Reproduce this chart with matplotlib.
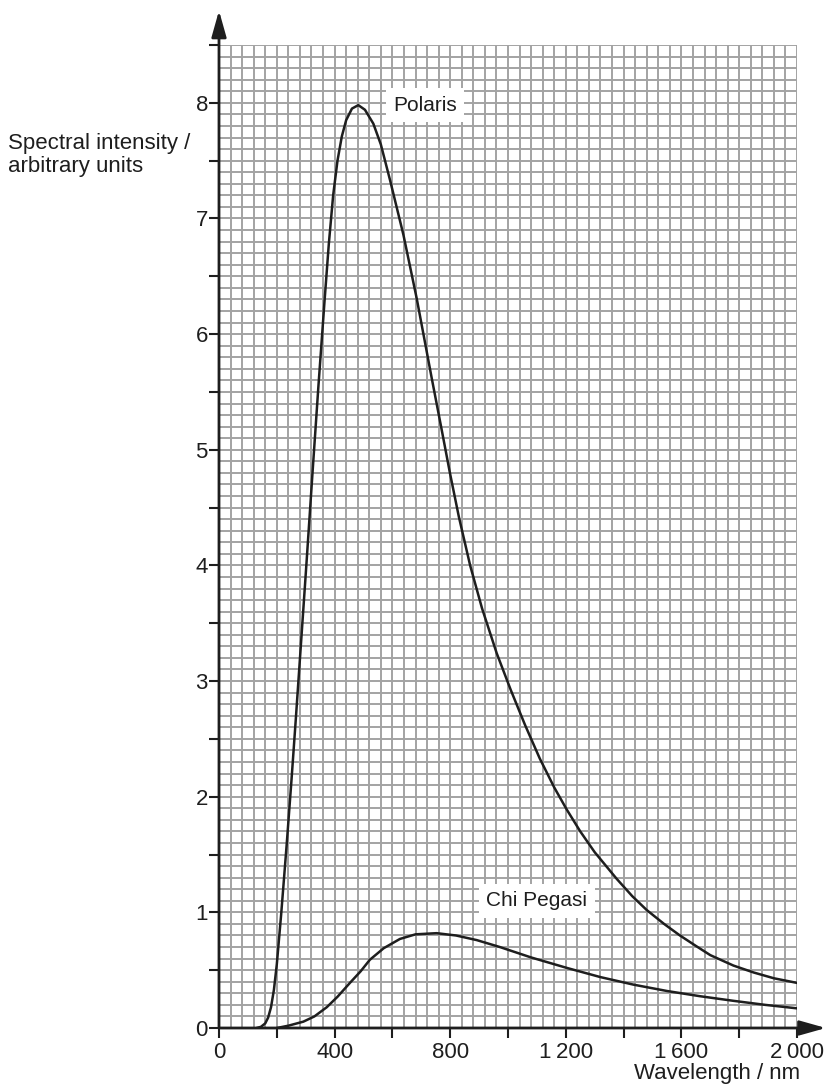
import numpy as np
import matplotlib.pyplot as plt
from matplotlib.ticker import MultipleLocator, FuncFormatter

plt.rcParams['font.family'] = ['Liberation Sans', 'DejaVu Sans']

# Polaris curve (wavelength / nm, intensity)
polaris_nm = [130, 145, 160, 170, 180, 190, 200, 215, 234, 251, 266, 283, 303, 323, 344,
              365, 380, 395, 410, 425, 440, 460, 482, 505, 534, 560, 592, 638, 684, 736,
              770, 799, 830, 869, 910, 961, 1010, 1059, 1110, 1160, 1203, 1250, 1300,
              1376, 1430, 1480, 1540, 1595, 1650, 1700, 1780, 1850, 1920, 2000]
polaris_val = [0.0, 0.01, 0.04, 0.09, 0.18, 0.33, 0.55, 0.98, 1.58, 2.15, 2.68, 3.3, 4.03, 4.78, 5.55,
               6.28, 6.78, 7.2, 7.5, 7.71, 7.85, 7.95, 7.98, 7.94, 7.82, 7.64, 7.33, 6.86, 6.31, 5.62,
               5.18, 4.80, 4.42, 4.00, 3.63, 3.24, 2.92, 2.62, 2.33, 2.08, 1.89, 1.70, 1.52,
               1.29, 1.14, 1.02, 0.90, 0.80, 0.71, 0.63, 0.54, 0.48, 0.43, 0.39]

# Chi Pegasi curve
chi_nm = [200, 240, 292, 330, 373, 410, 453, 490, 522, 570, 626, 680, 753, 820, 892,
          972, 1080, 1203, 1320, 1434, 1550, 1664, 1780, 1890, 2000]
chi_val = [0.0, 0.02, 0.055, 0.1, 0.18, 0.27, 0.39, 0.49, 0.59, 0.69, 0.77, 0.81, 0.82, 0.80, 0.76,
           0.70, 0.61, 0.52, 0.44, 0.375, 0.32, 0.275, 0.235, 0.2, 0.17]

x_max = 2000
y_max = 8.5
ink = '#1e1e1e'
grid_col = '#a3a3a3'

fig = plt.figure(figsize=(8.3, 10.88), dpi=100)
ax = fig.add_axes([219 / 830, 60 / 1088, 578 / 830, 983 / 1088])
ax.set_xlim(0, x_max)
ax.set_ylim(0, y_max)

# graph paper
for gx in np.arange(0, x_max + 1, 40):
    ax.axvline(gx, color=grid_col, lw=1.4, zorder=1)
for gy in np.arange(0, y_max + 0.01, 0.1):
    ax.axhline(gy, color=grid_col, lw=1.4, zorder=1)

ax.plot(polaris_nm, polaris_val, color=ink, lw=1.8, zorder=3,
        solid_capstyle='round', solid_joinstyle='round')
ax.plot(chi_nm, chi_val, color=ink, lw=1.8, zorder=3,
        solid_capstyle='round', solid_joinstyle='round')

box = dict(boxstyle='square,pad=0.35', fc='white', ec='none')
ax.text(712, 7.98, 'Polaris', fontsize=15, color=ink, ha='center', va='center', bbox=box, zorder=4)
ax.text(1100, 1.1, 'Chi Pegasi', fontsize=15, color=ink, ha='center', va='center', bbox=box, zorder=4)

# axes with arrows
for s in ax.spines.values():
    s.set_visible(False)
ax.annotate('', xy=(0, 1.035), xytext=(0, 0), xycoords='axes fraction',
            arrowprops=dict(arrowstyle='-|>,head_length=1.6,head_width=0.45',
                            color=ink, lw=2, mutation_scale=10, shrinkA=0, shrinkB=0), zorder=5)
ax.annotate('', xy=(1.05, 0), xytext=(0, 0), xycoords='axes fraction',
            arrowprops=dict(arrowstyle='-|>,head_length=1.6,head_width=0.45',
                            color=ink, lw=2, mutation_scale=10, shrinkA=0, shrinkB=0), zorder=5)

ax.xaxis.set_major_locator(MultipleLocator(200))
ax.yaxis.set_major_locator(MultipleLocator(0.5))


def fmt_x(v, pos):
    v = int(round(v))
    if v % 400:
        return ''
    return f'{v:,}'.replace(',', '\u2009')


def fmt_y(v, pos):
    if abs(v - round(v)) > 1e-6:
        return ''
    return str(int(round(v)))


ax.xaxis.set_major_formatter(FuncFormatter(fmt_x))
ax.yaxis.set_major_formatter(FuncFormatter(fmt_y))
ax.tick_params(direction='out', length=7, width=1.5, color=ink, labelcolor=ink,
               labelsize=16, pad=3)
ax.tick_params(axis='y', pad=1)

fig.text(8 / 830, 1 - 155 / 1088, 'Spectral intensity /\narbitrary units', fontsize=16,
         color=ink, ha='left', va='center', linespacing=1.1)
fig.text(800 / 830, 1 - 1073 / 1088, 'Wavelength / nm', fontsize=16, color=ink,
         ha='right', va='center')

fig.savefig('out.png', dpi=100)
